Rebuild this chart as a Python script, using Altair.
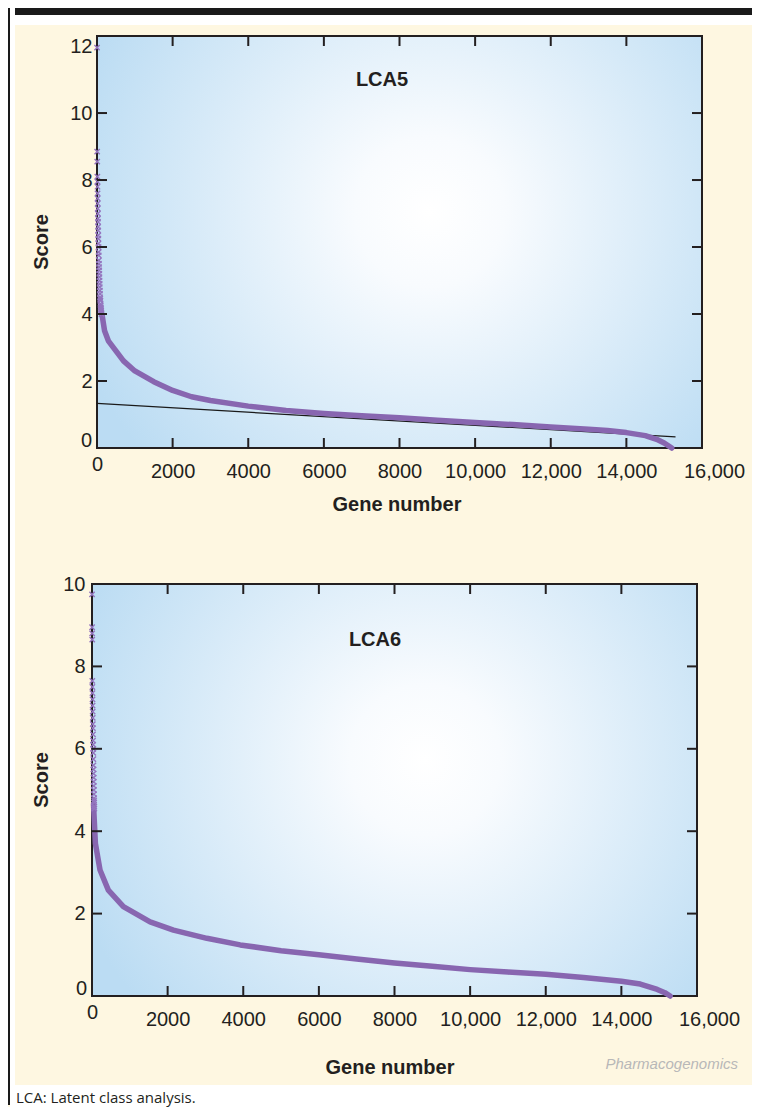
import altair as alt
import pandas as pd

# ---------------- data ----------------
# LCA5: dense part of the ranked curve
lca5_gene = [130, 200, 300, 400, 500, 700, 1000, 1500, 2000, 2500, 3000, 4000, 5000, 6000,
             7000, 8000, 9000, 10000, 11000, 12000, 13000, 13500, 14000, 14500, 14800, 15000, 15200]
lca5_score = [4.0, 3.5, 3.2, 3.05, 2.9, 2.6, 2.3, 1.98, 1.72, 1.53, 1.42, 1.25, 1.12, 1.03,
              0.96, 0.9, 0.83, 0.76, 0.7, 0.63, 0.56, 0.52, 0.46, 0.37, 0.26, 0.15, 0.0]
# LCA5: sparse top-ranked genes drawn as x markers
lca5_mk_gene = [1, 4, 6, 9, 11, 13, 15, 17, 19, 21, 23, 25, 27, 29, 31, 33, 35, 37, 40, 43,
                46, 49, 52, 55, 58, 61, 64, 67, 70, 73, 76, 79, 82, 86, 90, 94, 98, 102, 106, 110,
                115, 120]
lca5_mk_score = [11.95, 8.85, 8.55, 8.1, 7.95, 7.8, 7.6, 7.45, 7.3, 7.15, 7.0, 6.85, 6.75, 6.6,
                 6.5, 6.35, 6.25, 6.1, 6.0, 5.85, 5.75, 5.6, 5.5, 5.4, 5.3, 5.2, 5.1, 5.0, 4.9,
                 4.8, 4.7, 4.6, 4.5, 4.45, 4.4, 4.3, 4.25, 4.2, 4.15, 4.1, 4.05, 4.0]
# LCA5: fitted straight line
fit5_gene = [0, 15300]
fit5_score = [1.33, 0.33]

# LCA6: dense part of the ranked curve
lca6_gene = [40, 90, 212, 432, 830, 1536, 2154, 3038, 3920, 5000, 6000, 7000, 8000, 9000,
             10000, 11000, 12000, 13000, 14000, 14500, 14950, 15150, 15290]
lca6_score = [4.65, 3.7, 3.06, 2.57, 2.17, 1.8, 1.6, 1.4, 1.24, 1.1, 1.0, 0.9, 0.8, 0.72,
              0.64, 0.58, 0.53, 0.45, 0.36, 0.29, 0.16, 0.08, 0.0]
# LCA6: sparse top-ranked genes drawn as x markers
lca6_mk_gene = [1, 3, 4, 6, 8, 10, 12, 14, 16, 18, 20, 22, 24, 26, 28, 30, 32, 34, 36, 38,
                40, 42, 44, 46, 48, 50, 52, 54, 56, 58, 60, 62]
lca6_mk_score = [9.75, 8.95, 8.8, 8.65, 7.65, 7.5, 7.35, 7.2, 7.05, 6.9, 6.75, 6.6, 6.5, 6.35,
                 6.2, 6.1, 6.0, 5.9, 5.75, 5.6, 5.5, 5.4, 5.3, 5.2, 5.1, 5.0, 4.9, 4.8, 4.75,
                 4.7, 4.6, 4.55]

x_label_values = [0, 2000, 4000, 6000, 8000, 10000, 12000, 14000, 16000]
x_tick_values = [2000, 4000, 6000, 8000, 10000, 12000, 14000]
y5_label_values = [2, 4, 6, 8, 10, 12]
y5_tick_values = [2, 4, 6, 8, 10]
y6_label_values = [2, 4, 6, 8, 10]
y6_tick_values = [2, 4, 6, 8]
y_zero_label = [0]

# ---------------- styling ----------------
H = 412
FONT = "Liberation Sans"
INK = "#231f20"
PURPLE = "#8866b0"
PURPLE_MK = "#9474be"
CREAM = "#fef7e1"
GRAD = {
    "gradient": "radial",
    "stops": [
        {"offset": 0, "color": "#ffffff"},
        {"offset": 0.2, "color": "#f8fbfe"},
        {"offset": 1, "color": "#bbdcf3"},
    ],
    "x1": 0.55, "y1": 0.45, "r1": 0,
    "x2": 0.55, "y2": 0.45, "r2": 0.62,
}
XPATH = "M-1,-1L1,1M-1,1L1,-1"

one = pd.DataFrame({"k": [1]})


def rect(color, x1, x2, y1, y2):
    return alt.Chart(one).mark_rect(color=color).encode(
        x=alt.value(x1), x2=alt.value(x2), y=alt.value(y1), y2=alt.value(y2))


def panel(line_g, line_s, mk_g, mk_s, ymax, y_labels, y_ticks, label, label_xy,
          score_xy, gene_xy, x0, width, ypad, before=(), after=(), fit=None):
    xs = alt.Scale(domain=[0, 16000], nice=False, zero=False, range=[x0, width])
    ys = alt.Scale(domain=[0, ymax], nice=False, zero=False)
    xaxis = alt.Axis(
        values=x_label_values,
        labelExpr="datum.value >= 10000 ? format(datum.value, ',') : format(datum.value, 'd')",
        domain=False, ticks=False, grid=False, title=None, zindex=2,
        labelFont=FONT, labelFontSize=20, labelColor=INK,
        labelBaseline="top", labelFlush=False, labelOverlap=False,
        labelPadding={"condition": {"test": "datum.value == 0", "value": 6}, "value": 13},
        labelOffset={"condition": {"test": "datum.value == 16000", "value": 12}, "value": 0},
    )
    yaxis = alt.Axis(
        values=y_labels, domain=False, ticks=False, grid=False, title=None, zindex=2,
        labelFont=FONT, labelFontSize=20, labelColor=INK,
        labelFlush=False, labelOverlap=False, labelPadding=ypad,
    )

    line_df = pd.DataFrame({"gene": line_g, "score": line_s})
    mk_df = pd.DataFrame({"gene": mk_g, "score": mk_s})
    xt_df = pd.DataFrame({"v": x_tick_values})
    yt_df = pd.DataFrame({"v": y_ticks})
    y0_df = pd.DataFrame({"v": y_zero_label})

    X = alt.X("gene:Q", scale=xs, axis=xaxis)
    Y = alt.Y("score:Q", scale=ys, axis=yaxis)

    layers = list(before)
    layers.append(
        alt.Chart(one).mark_rect(fill=GRAD, stroke=INK, strokeWidth=2).encode(
            x=alt.value(x0), x2=alt.value(width), y=alt.value(0), y2=alt.value(H))
    )
    if fit is not None:
        fit_df = pd.DataFrame({"gene": fit[0], "score": fit[1]})
        layers.append(
            alt.Chart(fit_df).mark_line(color="#1a1a1a", strokeWidth=1.2).encode(x=X, y=Y)
        )
    layers.append(
        alt.Chart(line_df).mark_line(color=PURPLE, strokeWidth=5.5, strokeCap="round",
                                     strokeJoin="round").encode(x=X, y=Y)
    )
    layers.append(
        alt.Chart(mk_df).mark_point(shape=XPATH, filled=False, size=28, strokeWidth=1.4,
                                    color=PURPLE_MK, opacity=1).encode(x=X, y=Y)
    )
    XT = alt.X("v:Q", scale=xs, axis=xaxis)
    YT = alt.Y("v:Q", scale=ys, axis=yaxis)
    # inward tick marks on all four sides
    layers.append(alt.Chart(xt_df).mark_rule(color=INK, strokeWidth=2).encode(
        x=XT, y=alt.value(H), y2=alt.value(H - 10)))
    layers.append(alt.Chart(xt_df).mark_rule(color=INK, strokeWidth=2).encode(
        x=XT, y=alt.value(0), y2=alt.value(10)))
    layers.append(alt.Chart(yt_df).mark_rule(color=INK, strokeWidth=2).encode(
        y=YT, x=alt.value(x0), x2=alt.value(x0 + 10)))
    layers.append(alt.Chart(yt_df).mark_rule(color=INK, strokeWidth=2).encode(
        y=YT, x=alt.value(width), x2=alt.value(width - 10)))
    # the "0" of the score axis sits a little above its value
    layers.append(alt.Chart(y0_df).mark_text(text="0", font=FONT, fontSize=20, color=INK,
                                             align="right", dy=-7).encode(
        y=YT, x=alt.value(x0 - 5)))
    # panel label and axis titles
    layers.append(alt.Chart(one).mark_text(text=label, font=FONT, fontSize=20,
                                           fontWeight="bold", color=INK).encode(
        x=alt.value(label_xy[0]), y=alt.value(label_xy[1])))
    layers.append(alt.Chart(one).mark_text(text="Score", font=FONT, fontSize=20,
                                           fontWeight="bold", color=INK, angle=270).encode(
        x=alt.value(score_xy[0]), y=alt.value(score_xy[1])))
    layers.append(alt.Chart(one).mark_text(text="Gene number", font=FONT, fontSize=20,
                                           fontWeight="bold", color=INK).encode(
        x=alt.value(gene_xy[0]), y=alt.value(gene_xy[1])))
    layers.extend(after)
    return alt.layer(*layers).properties(width=width, height=H)


# page frame (top panel view origin sits at page (92, 36)); the cream is the chart background
deco_top = [
    rect("white", -84, 660, -28, -11),      # white strip above the cream panel
    rect("#1a1a1a", -84, 660, -28, -21),    # black rule at the very top
    rect("white", -84, -77, -28, 1069),     # white strip left of the cream panel
    rect("#1a1a1a", -84, -82, -28, 1069),   # black rule down the left side
]

top = panel(lca5_gene, lca5_score, lca5_mk_gene, lca5_mk_score, 12.3,
            y5_label_values, y5_tick_values, "LCA5", (290, 44),
            (-50, 206), (305, 469), x0=5, width=610, ypad=0, before=deco_top,
            fit=(fit5_gene, fit5_score))

# bottom panel view origin sits at page (92, 584)
deco_bottom = [
    rect("white", -82, 660, 501, 523),      # white strip under the cream panel
]

bottom_after = [
    alt.Chart(one).mark_text(text="Pharmacogenomics", font=FONT, fontSize=15,
                             fontStyle="italic", color="#b8b8b8", align="right").encode(
        x=alt.value(646), y=alt.value(480)),
    alt.Chart(one).mark_text(text="LCA: Latent class analysis.", font="Open Sans",
                             fontSize=15, color=INK, align="left").encode(
        x=alt.value(-76), y=alt.value(514)),
]

bottom = panel(lca6_gene, lca6_score, lca6_mk_gene, lca6_mk_score, 10.0,
               y6_label_values, y6_tick_values, "LCA6", (283, 56),
               (-50, 196), (298, 484), x0=0, width=605, ypad=7,
               before=deco_bottom, after=bottom_after)

chart = alt.vconcat(top, bottom, spacing=136, bounds="flush").properties(
    padding=0
).configure(background=CREAM).configure_view(strokeWidth=0)

chart.save("out.html", embed_options={"renderer": "svg", "actions": False})
